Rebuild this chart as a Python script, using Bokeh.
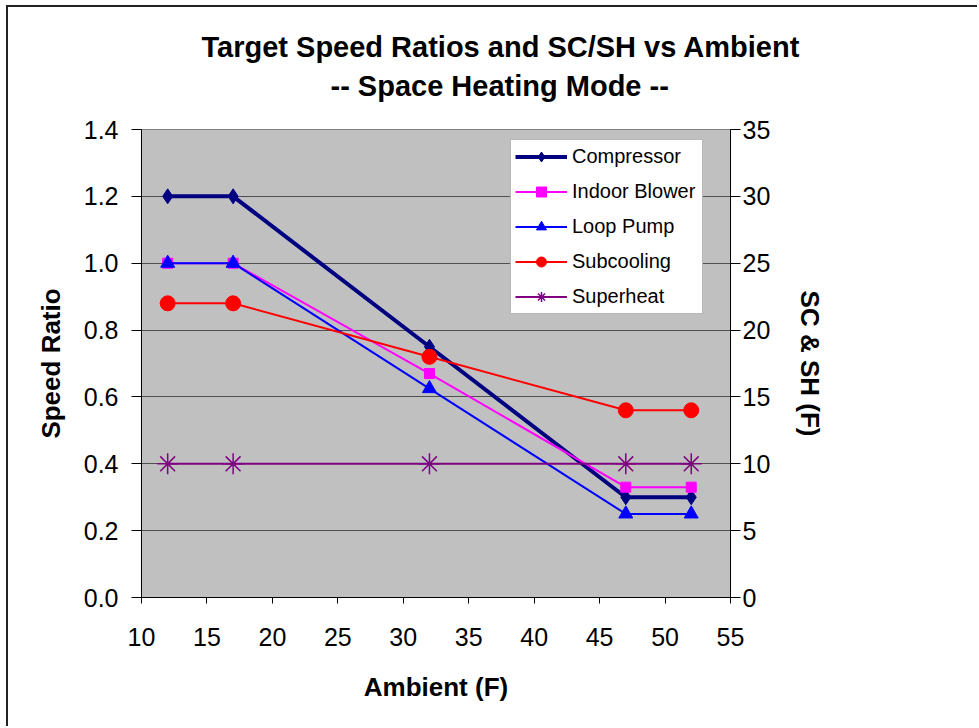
from bokeh.plotting import figure
from bokeh.models import Range1d, LinearAxis, FixedTicker, NumeralTickFormatter, Title, Legend
from bokeh.embed import file_html
from bokeh.resources import INLINE

ambient = [12, 17, 32, 47, 52]
compressor = [1.2, 1.2, 0.75, 0.3, 0.3]
indoor_blower = [1.0, 1.0, 0.67, 0.33, 0.33]
loop_pump = [1.0, 1.0, 0.625, 0.25, 0.25]
subcooling = [22, 22, 18, 14, 14]
superheat = [10, 10, 10, 10, 10]

left_ticks = [0.0, 0.2, 0.4, 0.6, 0.8, 1.0, 1.2, 1.4]
right_ticks = [0, 5, 10, 15, 20, 25, 30, 35]
x_ticks = [10, 15, 20, 25, 30, 35, 40, 45, 50, 55]

title_lines = ["Target Speed Ratios and SC/SH vs Ambient", "-- Space Heating Mode --"]

FONT = "Liberation Sans"

W, H = 971, 721
p = figure(width=W, height=H, output_backend="svg", toolbar_location=None, title=None,
           x_range=Range1d(10, 55), y_range=Range1d(0, 1.4),
           min_border_left=133, min_border_right=249, min_border_top=122, min_border_bottom=131)
p.styles = {"margin-left": "6px", "margin-top": "5px",
            "border-left": "2px solid #222222", "border-top": "2px solid #222222"}
p.extra_y_ranges = {"right": Range1d(0, 35)}

p.background_fill_color = "#C0C0C0"
p.border_fill_color = "white"
p.outline_line_color = "#808080"
p.outline_line_width = 1
p.xgrid.grid_line_color = None
p.ygrid.grid_line_color = "#505050"
p.ygrid.grid_line_width = 1
p.ygrid.ticker = FixedTicker(ticks=left_ticks)

# spacer between plot frame and the title block
p.add_layout(Title(text=" ", standoff=21, text_font_size="2px"), "above")
# Two-line title (second line added first: it sits nearer the plot)
p.add_layout(Title(text=title_lines[1], align="left", offset=189, standoff=5, text_font=FONT,
                   text_font_size="29px", text_font_style="bold", text_color="black"), "above")
p.add_layout(Title(text=title_lines[0], align="left", offset=60, standoff=5, text_font=FONT,
                   text_font_size="29px", text_font_style="bold", text_color="black"), "above")

def style_axis(ax):
    ax.axis_line_color = "black"
    ax.major_tick_line_color = "black"
    ax.minor_tick_line_color = None
    ax.major_tick_in = 0
    ax.major_tick_out = 10
    ax.major_label_text_font = FONT
    ax.major_label_text_font_size = "25px"
    ax.major_label_text_color = "black"
    ax.axis_label_text_font = FONT
    ax.axis_label_text_font_size = "26px"
    ax.axis_label_text_font_style = "bold"
    ax.axis_label_text_color = "black"

xa = p.xaxis[0]
style_axis(xa)
xa.ticker = FixedTicker(ticks=x_ticks)
xa.axis_label = "Ambient (F)"
xa.major_tick_out = 6
xa.major_label_standoff = 24
xa.axis_label_standoff = 23

ya = p.yaxis[0]
style_axis(ya)
ya.ticker = FixedTicker(ticks=left_ticks)
ya.formatter = NumeralTickFormatter(format="0.0")
ya.axis_label = "Speed Ratio"
ya.major_label_standoff = 13
ya.axis_label_standoff = 15

ra = LinearAxis(y_range_name="right", axis_label="SC & SH (F)")
style_axis(ra)
ra.ticker = FixedTicker(ticks=right_ticks)
ra.major_label_standoff = 2
ra.axis_label_standoff = 22
p.add_layout(ra, "right")

# Series
r1 = p.line(ambient, compressor, line_color="#000080", line_width=4)
m1 = p.scatter(ambient, compressor, marker="diamond", size=15, fill_color="#000080", line_color="#000080")
r2 = p.line(ambient, indoor_blower, line_color="#FF00FF", line_width=2)
m2 = p.scatter(ambient, indoor_blower, marker="square", size=10, fill_color="#FF00FF", line_color="#FF00FF")
r3 = p.line(ambient, loop_pump, line_color="#0000FF", line_width=2)
m3 = p.scatter(ambient, loop_pump, marker="triangle", size=14, fill_color="#0000FF", line_color="#0000FF")
r4 = p.line(ambient, subcooling, line_color="#FF0000", line_width=2, y_range_name="right")
m4 = p.scatter(ambient, subcooling, marker="circle", size=15, fill_color="#FF0000", line_color="#FF0000", y_range_name="right")
r5 = p.line(ambient, superheat, line_color="#800080", line_width=2, y_range_name="right")
m5 = p.scatter(ambient, superheat, marker="asterisk", size=21, line_color="#800080", line_width=1.5, y_range_name="right")

legend = Legend(items=[("Compressor", [r1, m1]), ("Indoor Blower", [r2, m2]), ("Loop Pump", [r3, m3]),
                       ("Subcooling", [r4, m4]), ("Superheat", [r5, m5])],
                location=(369, 283))
legend.margin = 0
legend.padding = 4
legend.spacing = 10
legend.glyph_width = 52
legend.glyph_height = 25
legend.label_height = 25
legend.label_width = 126
legend.label_standoff = 5
legend.label_text_font = FONT
legend.label_text_font_size = "20px"
legend.label_text_color = "black"
legend.background_fill_color = "white"
legend.background_fill_alpha = 1
legend.border_line_color = "#707070"
legend.border_line_width = 1
p.add_layout(legend, "center")

open("out.html", "w").write(file_html(p, INLINE))
